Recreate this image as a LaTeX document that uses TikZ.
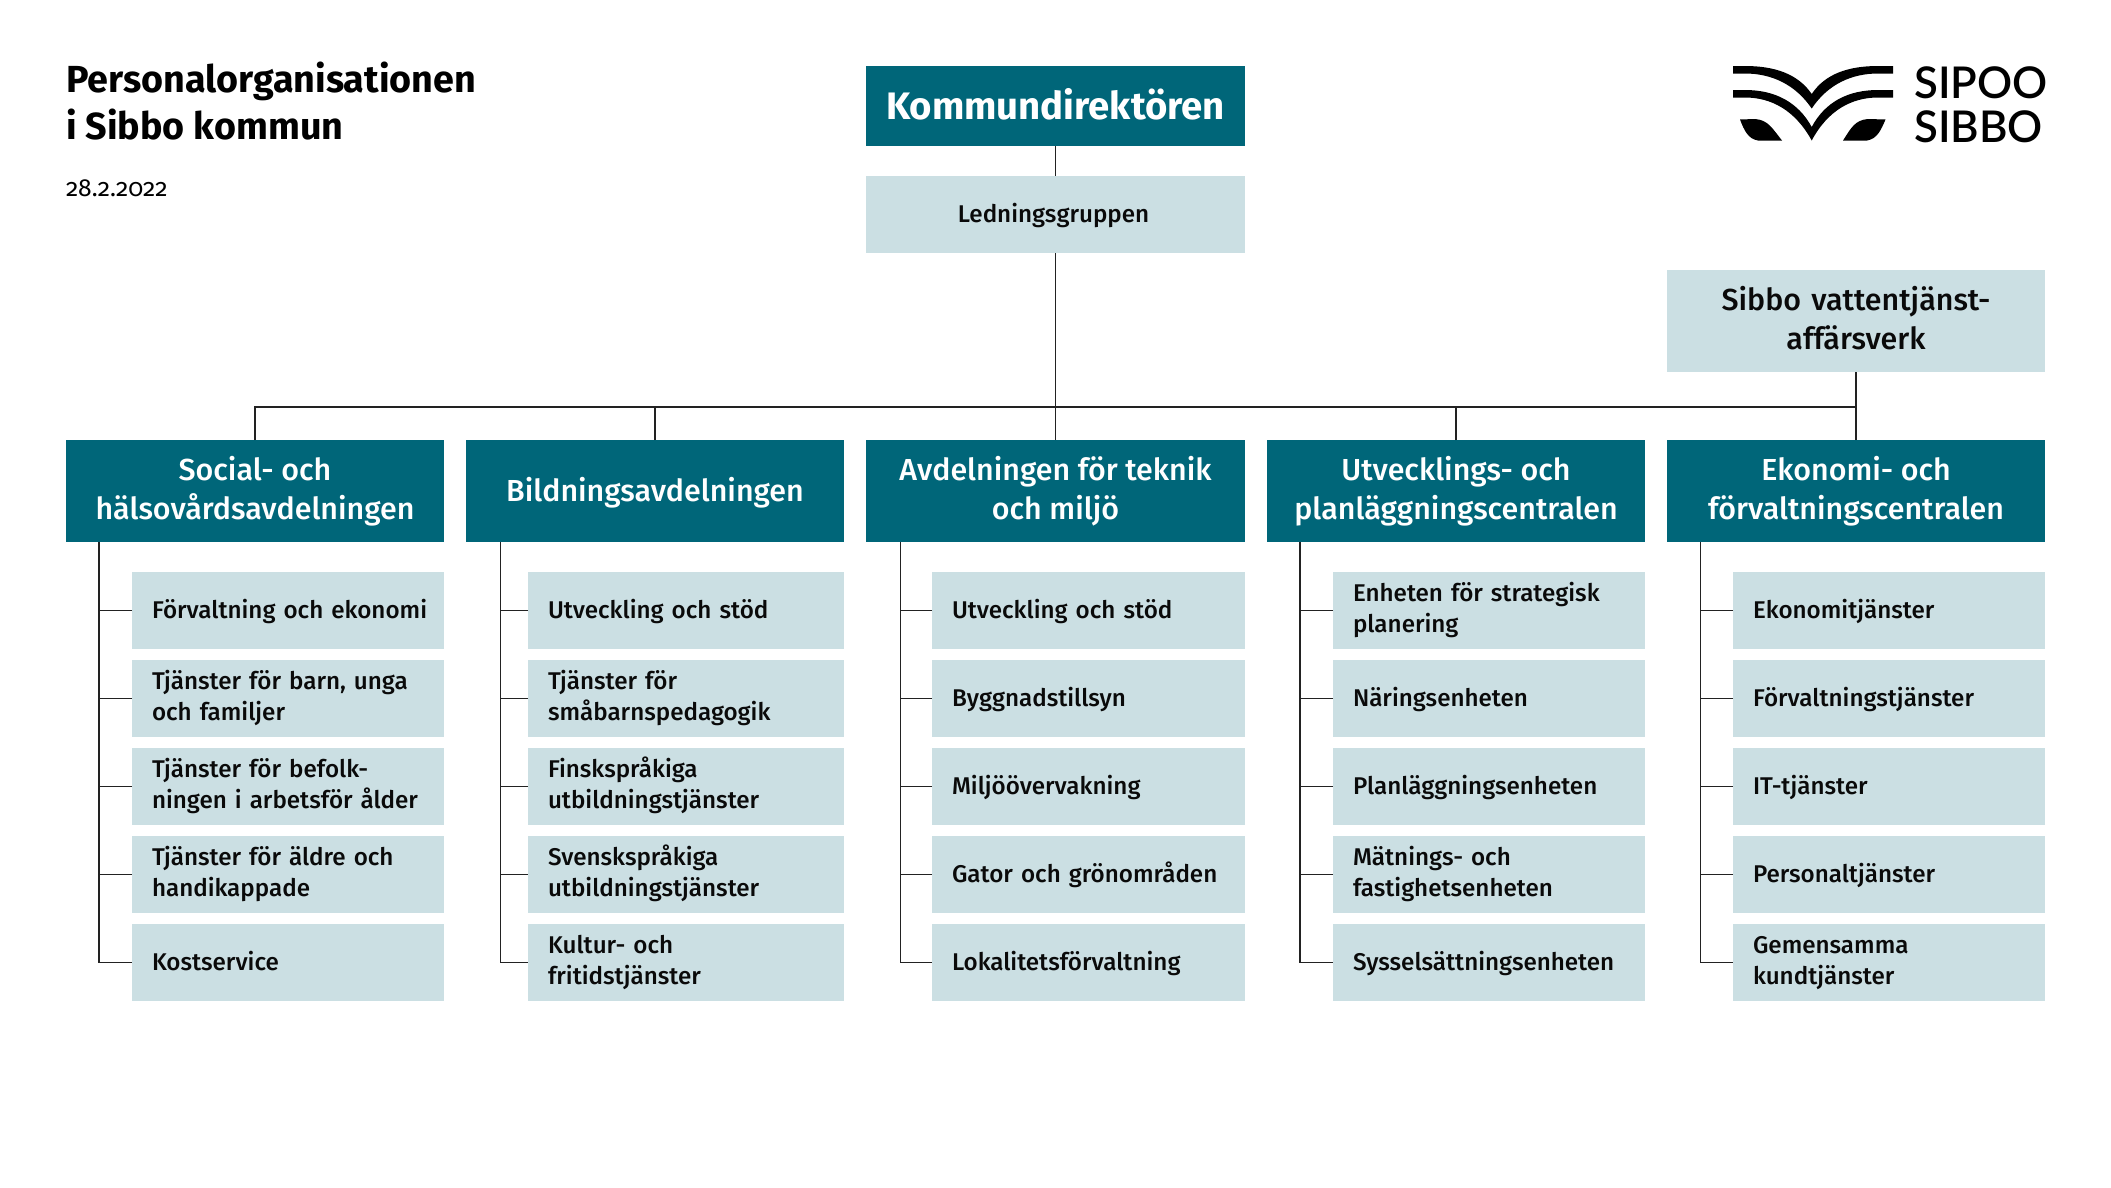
\documentclass[tikz,border=0pt]{standalone}
\usepackage{fontspec}
\setmainfont{Fira Sans}
\newfontfamily\medfont{Fira Sans Medium}
\newfontfamily\logofont{Lato Semibold}
\newfontfamily\datefont[Numbers=OldStyle]{Fira Sans}
\definecolor{headc}{HTML}{006679}
\definecolor{lightc}{HTML}{CBDFE3}
\definecolor{linec}{HTML}{222222}
\definecolor{txt}{HTML}{0A0A0A}
\tikzset{
  headbox/.style={draw=none,fill=headc,text=white,anchor=north west,inner sep=0pt,outer sep=0pt,
    minimum width=378,minimum height=102,align=center,font=\fontsize{30.4}{39}\selectfont\medfont},
  subbox/.style 2 args={draw=none,fill=lightc,text=txt,anchor=north west,inner sep=0pt,outer sep=0pt,inner xsep=20,
    minimum width=#1,text width=#2,minimum height=76.5,align=left,font=\fontsize{24.2}{31}\selectfont\medfont,
    execute at begin node={\rule[-7pt]{0pt}{31pt}}},
  twoline/.style={execute at end node={\rule[-#1pt]{0pt}{#1pt}}},
  twoline/.default=11.3,
  link/.style={draw=linec,line width=1.2pt},
  logomark/.style={fill=black,draw=none}
}
\begin{document}
\begin{tikzpicture}[x=1pt,y=-1pt]
\useasboundingbox (0,0) rectangle (2111,1187);
% title
\node[anchor=north west,inner sep=0pt,align=left,font=\fontsize{37.7}{47}\selectfont\bfseries] (title) at (66,62) {Personalorganisationen\\i Sibbo kommun};
\node[anchor=north west,inner sep=0pt,font=\fontsize{24.7}{28}\selectfont\datefont] (date) at (66,180) {28.2.2022};
% top
\node[headbox,minimum width=379,minimum height=80,font=\fontsize{38.3}{40}\selectfont\bfseries] (k) at (866,66) {\raisebox{3.5pt}{Kommundirektören}};
\node[subbox={379}{339},twoline=9,align=center,minimum height=77] (lg) at (866,176) {\hspace*{-4pt}Ledningsgruppen};
\node[subbox={378}{338},twoline=6.7,align=center,minimum height=102,font=\fontsize{30.4}{39}\selectfont\medfont] (v) at (1667,270) {Sibbo vattentjänst-\\affärsverk};
% heads
\node[headbox] (h1) at (66,440) {Social- och\\hälsovårdsavdelningen};
\node[headbox] (h2) at (466,440) {\rule[-10pt]{0pt}{40pt}Bildningsavdelningen};
\node[headbox,minimum width=379] (h3) at (866,440) {Avdelningen för teknik\\och miljö};
\node[headbox] (h4) at (1267,440) {Utvecklings- och\\planläggningscentralen};
\node[headbox] (h5) at (1667,440) {Ekonomi- och\\förvaltningscentralen};
% column 1
\node[subbox={312}{272}] (a1) at (132,572) {\mbox{Förvaltning och ekonomi}};
\node[subbox={312}{272},twoline] (a2) at (132,660) {Tjänster för barn, unga\\och familjer};
\node[subbox={312}{272},twoline] (a3) at (132,748) {Tjänster för befolk-\\ningen i arbetsför ålder};
\node[subbox={312}{272},twoline] (a4) at (132,836) {Tjänster för äldre och\\handikappade};
\node[subbox={312}{272}] (a5) at (132,924) {Kostservice};
% column 2
\node[subbox={316}{276}] (b1) at (528,572) {Utveckling och stöd};
\node[subbox={316}{276},twoline] (b2) at (528,660) {Tjänster för\\småbarnspedagogik};
\node[subbox={316}{276},twoline] (b3) at (528,748) {Finskspråkiga\\utbildningstjänster};
\node[subbox={316}{276},twoline] (b4) at (528,836) {Svenskspråkiga\\utbildningstjänster};
\node[subbox={316}{276},twoline] (b5) at (528,924) {Kultur- och\\fritidstjänster};
% column 3
\node[subbox={313}{273}] (c1) at (932,572) {Utveckling och stöd};
\node[subbox={313}{273}] (c2) at (932,660) {Byggnadstillsyn};
\node[subbox={313}{273}] (c3) at (932,748) {Miljöövervakning};
\node[subbox={313}{273}] (c4) at (932,836) {Gator och grönområden};
\node[subbox={313}{273}] (c5) at (932,924) {Lokalitetsförvaltning};
% column 4
\node[subbox={312}{272},twoline] (d1) at (1333,572) {Enheten för strategisk\\planering};
\node[subbox={312}{272}] (d2) at (1333,660) {Näringsenheten};
\node[subbox={312}{272}] (d3) at (1333,748) {Planläggningsenheten};
\node[subbox={312}{272},twoline] (d4) at (1333,836) {Mätnings- och\\fastighetsenheten};
\node[subbox={312}{272}] (d5) at (1333,924) {Sysselsättningsenheten};
% column 5
\node[subbox={312}{272}] (e1) at (1733,572) {Ekonomitjänster};
\node[subbox={312}{272}] (e2) at (1733,660) {Förvaltningstjänster};
\node[subbox={312}{272}] (e3) at (1733,748) {IT-tjänster};
\node[subbox={312}{272}] (e4) at (1733,836) {Personaltjänster};
\node[subbox={312}{272},twoline] (e5) at (1733,924) {Gemensamma\\kundtjänster};
% connectors
\coordinate (bus) at (1056,407);
\draw[link] (k.south) -- (lg.north);
\draw[link] (lg.south) -- (h3.north);
\draw[link] (h1.north) -- (h1.north |- bus) -- (h5.north |- bus) -- (h5.north);
\draw[link] (h2.north) -- (h2.north |- bus);
\draw[link] (h4.north) -- (h4.north |- bus);
\draw[link] (v.south) -- (h5.north);
\foreach \c/\h/\dx in {a/h1/33,b/h2/34.7,c/h3/34.3,d/h4/33,e/h5/33.5}{
  \coordinate (s\c) at ([xshift=\dx]\h.south west);
  \draw[link] (s\c) |- (\c5.west);
  \foreach \r in {1,2,3,4}{ \draw[link] (\c\r.west) -- (\c\r.west -| s\c); }
}
% logo
\fill[logomark] (1733,66) -- (1745,66) .. controls (1775,66) and (1798,74) .. (1811.7,94)
  .. controls (1825,74) and (1848,66) .. (1878,66) -- (1893,66) -- (1893,73.5) -- (1878,73.5)
  .. controls (1852,73.5) and (1828,84) .. (1811.7,108.5)
  .. controls (1795,84) and (1771,73.5) .. (1745,73.5) -- (1733,73.5) -- cycle;
\fill[logomark] (1733,90) -- (1745,90) .. controls (1775,90) and (1798,102) .. (1811.7,127)
  .. controls (1825,102) and (1848,90) .. (1878,90) -- (1893,90) -- (1893,97.5) -- (1878,97.5)
  .. controls (1852,97.5) and (1828,110) .. (1811.7,140.5)
  .. controls (1795,110) and (1771,97.5) .. (1745,97.5) -- (1733,97.5) -- cycle;
\fill[logomark] (1740,119.5) -- (1755,119) .. controls (1768,120) and (1772,128) .. (1782,140.5)
  -- (1758,140.5) .. controls (1748,139) and (1744,130) .. cycle;
\fill[logomark] (1885.5,119.5) -- (1868,119) .. controls (1855,120) and (1851,128) .. (1843,140.5)
  -- (1867,140.5) .. controls (1877,139) and (1881,130) .. cycle;
\node[anchor=north west,inner sep=0pt,align=left,text=black,font=\fontsize{43.7}{44}\selectfont\logofont] (logotext) at (1914,66) {SIPOO\\SIBBO};
\end{tikzpicture}
\end{document}
